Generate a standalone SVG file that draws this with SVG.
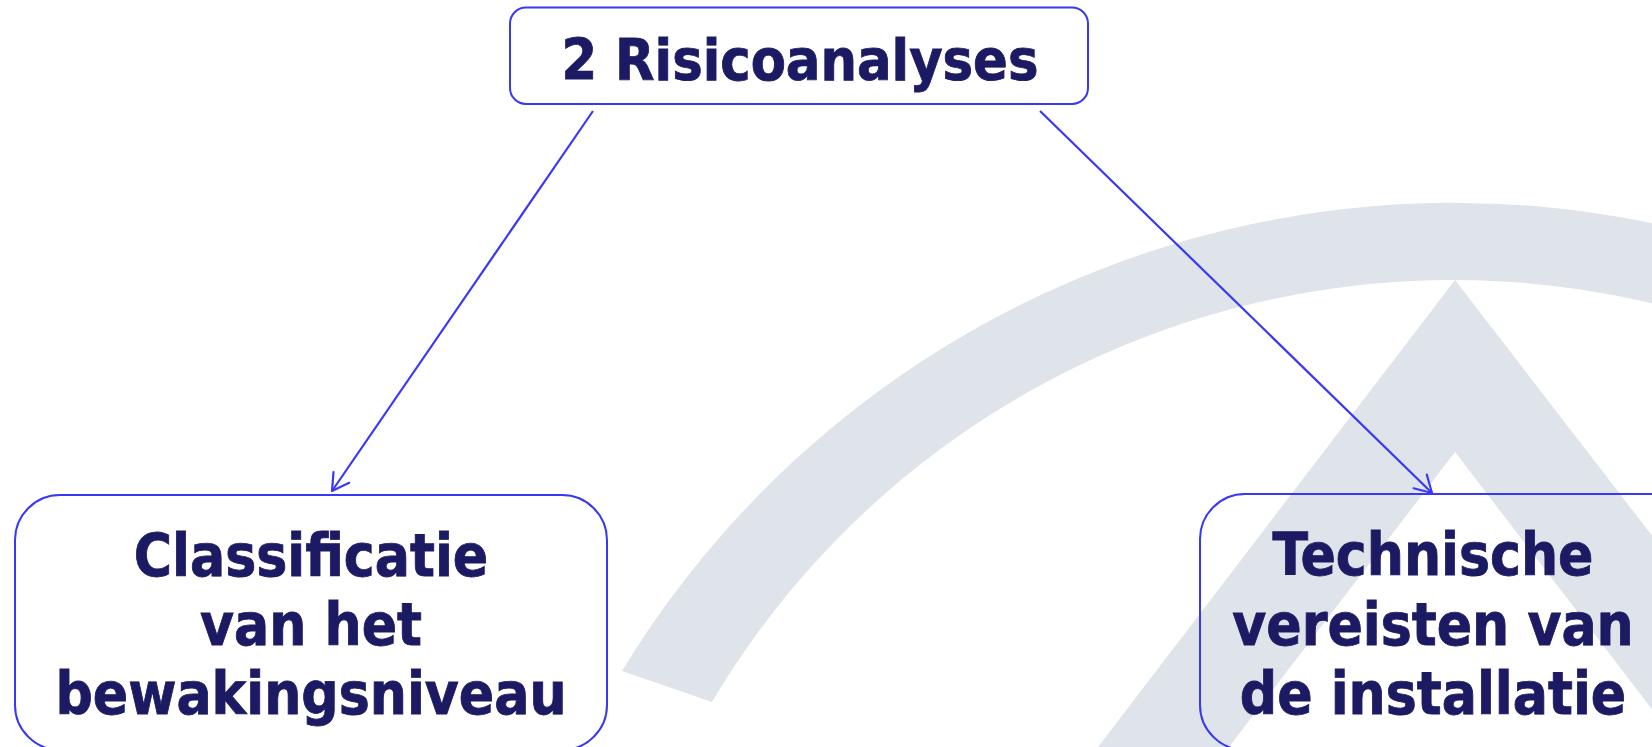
<svg xmlns="http://www.w3.org/2000/svg" width="1652" height="747" viewBox="0 0 1652 747">
  <style>
    .box { fill: none; stroke: #3838f5; stroke-width: 2; }
    .lbl { font-family: "DejaVu Sans Condensed", "DejaVu Sans", sans-serif; font-stretch: condensed; font-weight: bold; fill: #1c1a63; stroke: #1c1a63; stroke-width: 0.8; text-anchor: middle; }
    .conn { stroke: #3838f5; stroke-width: 2.2; fill: none; marker-end: url(#arr); }
    .wm { fill: #dfe3ea; }
  </style>
  <defs>
    <marker id="arr" viewBox="-19 -11 21 22" refX="0" refY="0" markerWidth="21" markerHeight="22" markerUnits="userSpaceOnUse" orient="auto">
      <path d="M-16.5,-9.5 L0,0 L-16.5,9.5" fill="none" stroke="#3838f5" stroke-width="2.2" stroke-linecap="round" stroke-linejoin="round"/>
    </marker>
  </defs>
  <rect width="1652" height="747" fill="#ffffff"/>
  <g id="watermark">
    <path class="wm" d="M622,671 A973.5,973.5 0 0 1 1900,311 L1900,405 A861.6,861.6 0 0 0 712,702 Z"/>
    <path class="wm" d="M1455,280 L1098,747 L1229,747 L1455,452 L1681,747 L1815,747 Z"/>
  </g>
  <g id="connectors">
    <line class="conn" x1="593" y1="111" x2="332" y2="491"/>
    <line class="conn" x1="1040" y1="111" x2="1432" y2="493"/>
  </g>
  <g id="node-risicoanalyses">
    <rect class="box" x="510" y="7.5" width="578" height="96.5" rx="16"/>
    <text class="lbl" x="800" y="80" font-size="57">2 Risicoanalyses</text>
  </g>
  <g id="node-classificatie">
    <rect class="box" x="15" y="495" width="592" height="255" rx="45"/>
    <text class="lbl" x="311" y="576" font-size="58">Classificatie</text>
    <text class="lbl" x="311" y="645" font-size="58">van het</text>
    <text class="lbl" x="311" y="714" font-size="58">bewakingsniveau</text>
  </g>
  <g id="node-technische">
    <rect class="box" x="1200" y="494" width="520" height="256" rx="45"/>
    <text class="lbl" x="1433" y="575" font-size="58">Technische</text>
    <text class="lbl" x="1433" y="645" font-size="58">vereisten van</text>
    <text class="lbl" x="1433" y="714" font-size="58">de installatie</text>
  </g>
</svg>
